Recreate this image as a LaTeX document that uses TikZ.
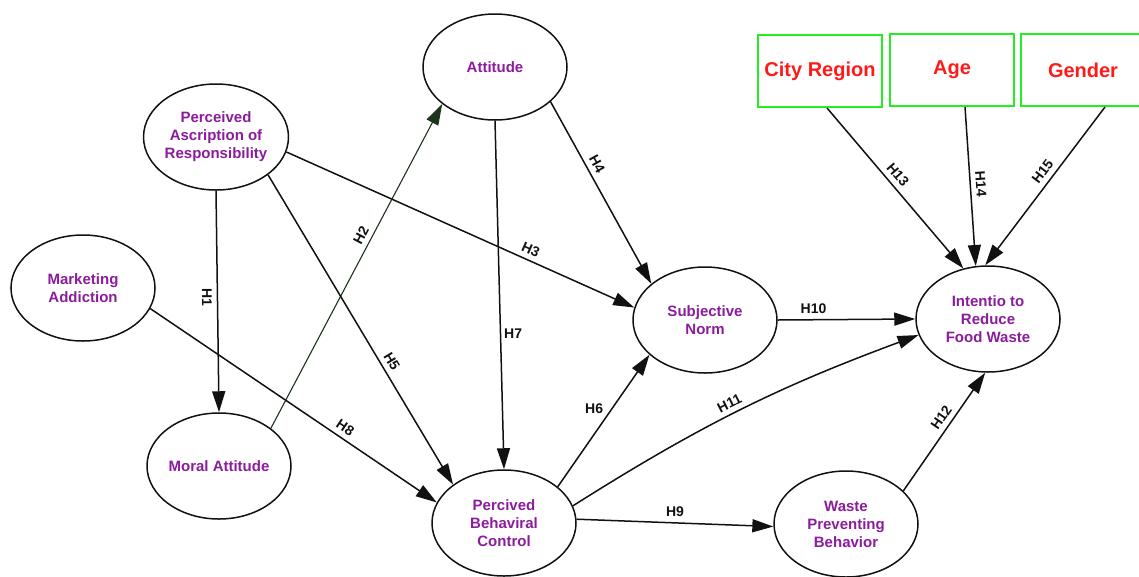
\documentclass[tikz,border=0pt]{standalone}
\usepackage{fontspec}
\setmainfont{Liberation Sans}
\usetikzlibrary{positioning, arrows.meta, shapes.geometric}
\definecolor{Purple}{HTML}{8B1C9C}
\definecolor{Alert}{HTML}{FF1A1A}
\definecolor{Frame}{HTML}{22EE22}
\definecolor{Dark}{HTML}{111111}
\definecolor{DarkGreen}{HTML}{1C331C}
\tikzset{
    construct/.style={ellipse, draw=Dark, line width=1.5pt, minimum width=144pt, minimum height=106pt, inner sep=0pt, text=Purple, align=center, font=\fontsize{15}{18}\selectfont\bfseries},
    control/.style={rectangle, draw=Frame, line width=2pt, minimum width=124pt, minimum height=72pt, inner sep=4pt, text=Alert, font=\fontsize{20}{24}\selectfont\bfseries},
    arrow/.style={-{Triangle[length=21pt, width=13pt]}, line width=1.5pt, color=Dark},
    hlabel/.style={font=\fontsize{14}{16}\selectfont\bfseries, text=Dark, inner sep=5pt},
}
\begin{document}
\begin{tikzpicture}[x=1pt, y=-1pt]
    \useasboundingbox (0,0) rectangle (1139,576);
    \fill[white] (0,0) rectangle (1139,576);

    % Constructs
    \node[construct] (att) at (495,67) {Attitude};
    \node[construct] (par) at (216,137) {Perceived\\Ascription of\\Responsibility};
    \node[construct] (mkt) at (83,288) {Marketing\\Addiction};
    \node[construct] (moral) at (219,466) {Moral Attitude};
    \node[construct] (pbc) at (504,523) {Percived\\Behaviral\\Control};
    \node[construct] (sn) at (705,320) {Subjective\\Norm};
    \node[construct] (int) at (988,319) {Intentio to\\Reduce\\Food Waste};
    \node[construct] (wpb) at (846,524) {Waste\\Preventing\\Behavior};

    % Control variables
    \node[control] (city) at (820,71) {City Region};
    \node[control] (age) at (952,70) {Age};
    \node[control] (gender) at (1083,70) {Gender};

    % Hypotheses
    \draw[arrow] (par.south) -- node[hlabel, pos=.48, rotate=-90, below] {H1} (moral.north);
    \draw[arrow, line width=1.1pt, draw=DarkGreen] (moral.36) -- node[hlabel, pos=.58, sloped, above] {H2} (att.215);
    \draw[arrow] (par.-12) -- node[hlabel, pos=.69, sloped, above] {H3} (sn.170);
    \draw[arrow] (att.-32) -- node[hlabel, pos=.37, sloped, above] {H4} (sn.146);
    \draw[arrow] (par.-36) -- node[hlabel, pos=.62, sloped, above] {H5} (pbc.143);
    \draw[arrow] (pbc.34) -- node[hlabel, pos=.59, left, xshift=-3pt] {H6} (sn.212);
    \draw[arrow] (att.south) -- node[hlabel, pos=.61, right, xshift=-2pt] {H7} (pbc.north);
    \draw[arrow] (mkt.-17) -- node[hlabel, pos=.66, sloped, above] {H8} (pbc.163);
    \draw[arrow] (pbc.3) -- node[hlabel, pos=.5, above] {H9} (wpb.182);
    \draw[arrow] (sn.east) -- node[hlabel, pos=.26, above] {H10} (int.west);
    \draw[arrow] (pbc.14) to[bend left=6] node[hlabel, pos=.48, sloped, above] {H11} (int.193);
    \draw[arrow] (wpb.30) -- node[hlabel, pos=.57, sloped, above] {H12} (int.-93);
    \draw[arrow] ([xshift=7pt]city.south) -- node[hlabel, pos=.46, sloped, above] {H13} (int.116);
    \draw[arrow] ([xshift=13pt]age.south) -- node[hlabel, pos=.49, sloped, above] {H14} (int.103);
    \draw[arrow] ([xshift=22pt]gender.south) -- node[hlabel, pos=.45, sloped, above] {H15} (int.93);
\end{tikzpicture}
\end{document}
